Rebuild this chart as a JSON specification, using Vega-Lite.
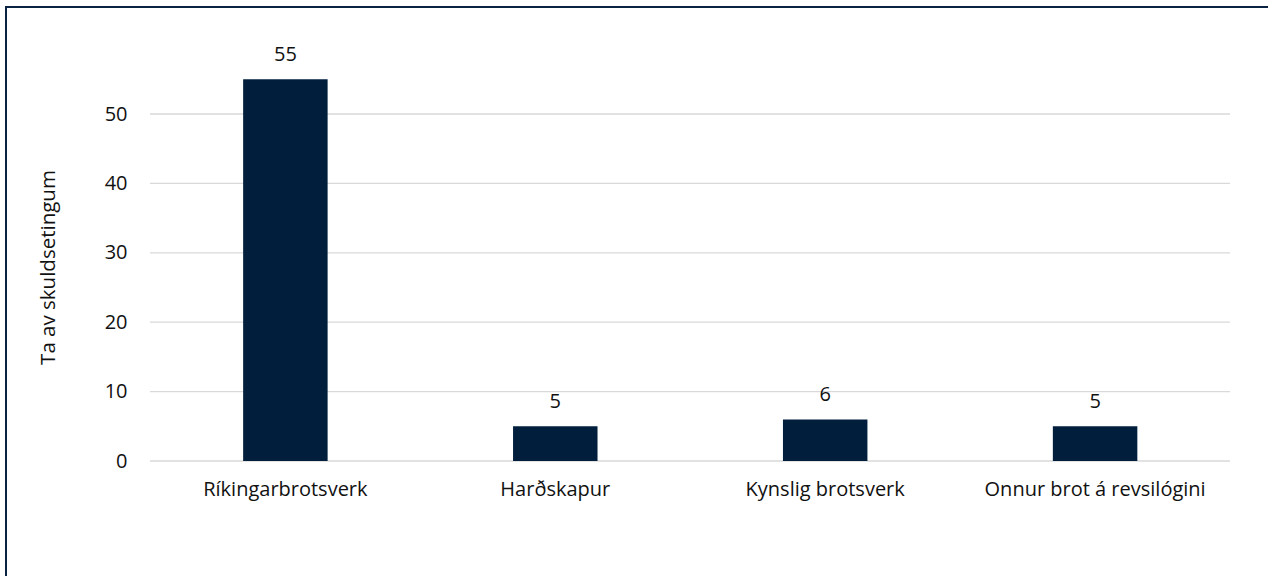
{
  "$schema": "https://vega.github.io/schema/vega-lite/v6.json",
  "width": 1263,
  "height": 572,
  "autosize": {"type": "none"},
  "padding": {"left": 6, "top": 7, "right": 0, "bottom": 0},
  "background": "white",
  "config": {
    "view": {"stroke": "#0A2342", "strokeWidth": 2},
    "font": "Open Sans",
    "text": {"font": "Open Sans"}
  },
  "datasets": {
    "bars": [
      {"category": "Ríkingarbrotsverk", "value": 55},
      {"category": "Harðskapur", "value": 5},
      {"category": "Kynslig brotsverk", "value": 6},
      {"category": "Onnur brot á revsilógini", "value": 5}
    ],
    "grid": [
      {"v": 0, "start": 0, "end": 1},
      {"v": 10, "start": 0, "end": 1},
      {"v": 20, "start": 0, "end": 1},
      {"v": 30, "start": 0, "end": 1},
      {"v": 40, "start": 0, "end": 1},
      {"v": 50, "start": 0, "end": 1}
    ]
  },
  "layer": [
    {
      "data": {"name": "grid"},
      "mark": {"type": "rule", "stroke": "#D9D9D9", "strokeWidth": 1.3},
      "encoding": {
        "x": {"field": "start", "type": "quantitative", "scale": {"domain": [-0.13333, 1.03611], "nice": false, "zero": false}, "axis": null},
        "x2": {"field": "end"},
        "y": {"field": "v", "type": "quantitative", "scale": {"domain": [-17.0, 65.42], "nice": false, "zero": false},
          "axis": {
            "orient": "left", "offset": -144, "values": [0, 10, 20, 30, 40, 50],
            "domain": false, "ticks": false, "tickSize": 0, "grid": false,
            "labelFont": "Open Sans", "labelFontSize": 20, "labelColor": "#111111", "labelPadding": 23,
            "title": "Ta av skuldsetingum", "titleFont": "Open Sans", "titleFontSize": 20.5, "titleFontWeight": "normal",
            "titleColor": "#111111", "titlePadding": 46, "titleY": 260
          }
        }
      }
    },
    {
      "data": {"name": "bars"},
      "encoding": {
        "x": {"field": "category", "type": "nominal", "sort": null,
          "scale": {"paddingInner": 0.687, "paddingOuter": 0.6832, "align": 0.643, "round": false},
          "axis": {
            "orient": "bottom", "offset": -118, "title": null, "domain": false, "ticks": false, "tickSize": 0, "grid": false,
            "labelAngle": 0, "labelFont": "Open Sans", "labelFontSize": 20, "labelColor": "#111111", "labelPadding": 18, "labelLimit": 0
          }
        },
        "y": {"field": "value", "type": "quantitative"}
      },
      "layer": [
        {
          "mark": {"type": "bar", "color": "#011F3D"},
          "encoding": {"y2": {"datum": 0}}
        },
        {
          "mark": {"type": "text", "baseline": "alphabetic", "dy": -18, "fontSize": 20, "font": "Open Sans", "color": "#111111"},
          "encoding": {"text": {"field": "value", "type": "quantitative"}}
        }
      ]
    }
  ],
  "resolve": {"scale": {"x": "independent"}}
}
